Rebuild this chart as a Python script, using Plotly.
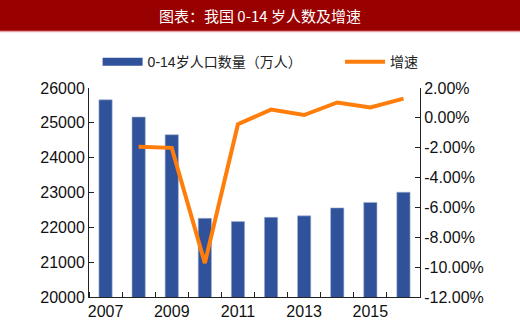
import plotly.graph_objects as go

years = [2007, 2008, 2009, 2010, 2011, 2012, 2013, 2014, 2015, 2016]
population = [25660, 25166, 24659, 22259, 22164, 22287, 22329, 22558, 22715, 23008]
growth_years = [2008, 2009, 2010, 2011, 2012, 2013, 2014, 2015, 2016]
growth = [-1.93, -2.01, -9.73, -0.43, 0.55, 0.19, 1.03, 0.70, 1.29]

x_tick_vals = [2007, 2009, 2011, 2013, 2015]
x_tick_text = ["2007", "2009", "2011", "2013", "2015"]
left_ticks = [20000, 21000, 22000, 23000, 24000, 25000, 26000]
left_tick_text = ["20000", "21000", "22000", "23000", "24000", "25000", "26000"]
right_ticks = [-12, -10, -8, -6, -4, -2, 0, 2]
right_tick_text = ["-12.00%", "-10.00%", "-8.00%", "-6.00%", "-4.00%", "-2.00%", "0.00%", "2.00%"]

title = "图表：我国 0-14 岁人数及增速"
bar_name = "0-14岁人口数量（万人）"
line_name = "增速"

BAR = "#30529A"
LINE = "#FF7D0A"
FONT = "Liberation Sans, Arial, Noto Sans CJK SC"

fig = go.Figure()
fig.add_trace(go.Bar(x=years, y=population, marker=dict(color=BAR, line=dict(color="#9fb0d0", width=0.6)),
                     width=0.4, showlegend=False, name=bar_name))
# legend proxy for the bar series (wide swatch)
fig.add_trace(go.Scatter(x=[None], y=[None], mode="lines", line=dict(color=BAR, width=8), name=bar_name,
                         legend="legend"))
fig.add_trace(go.Scatter(x=growth_years, y=growth, mode="lines", line=dict(color=LINE, width=4),
                         name=line_name, yaxis="y2", legend="legend2"))

leg_common = dict(orientation="h", xanchor="left", yanchor="middle", y=1.124,
                  font=dict(size=14, color="#222222"), bgcolor="rgba(0,0,0,0)", itemwidth=40)

fig.update_layout(
    width=520, height=332,
    margin=dict(l=89, r=100, t=88, b=35),
    paper_bgcolor="white", plot_bgcolor="white",
    font=dict(family=FONT, size=16, color="#111111"),
    showlegend=True,
    legend=dict(x=0.026, **leg_common),
    legend2=dict(x=(340 - 89) / 331, **leg_common),
    xaxis=dict(range=[2006.5, 2016.5], tickvals=x_tick_vals, ticktext=x_tick_text, ticks="",
               showline=True, linecolor="#222222", linewidth=1, showgrid=False, zeroline=False,
               minor=dict(tick0=2006.5, dtick=1, ticks="inside", ticklen=5, tickcolor="#222222", showgrid=False),
               tickfont=dict(size=16)),
    yaxis=dict(range=[20000, 26000], tickvals=left_ticks, ticktext=left_tick_text, ticks="inside",
               ticklen=5, tickcolor="#222222",
               showline=True, linecolor="#222222", linewidth=1, showgrid=False, zeroline=False,
               tickfont=dict(size=16)),
    yaxis2=dict(range=[-12, 2], tickvals=right_ticks, ticktext=right_tick_text, overlaying="y", side="right",
                ticks="inside", ticklen=5, tickcolor="#222222", showline=True, linecolor="#222222",
                linewidth=1, showgrid=False, zeroline=False, tickfont=dict(size=16)),
    bargap=0.6,
)

# title banner
fig.add_shape(type="rect", xref="paper", yref="paper", x0=-89/331, x1=431/331,
              y0=(297-31)/209, y1=297/209 + 0.01, fillcolor="#990000", line=dict(width=0), layer="above")
fig.add_shape(type="line", xref="paper", yref="paper", x0=-89/331, x1=431/331,
              y0=(297-31.5)/209, y1=(297-31.5)/209, line=dict(color="#E8A0A0", width=1.5))
fig.add_annotation(text=title, xref="paper", yref="paper", x=(260-89)/331, y=(297-15)/209,
                   xanchor="center", yanchor="middle", showarrow=False,
                   font=dict(family="Noto Sans CJK SC", size=15, color="white"))

fig.write_html("out.html")
